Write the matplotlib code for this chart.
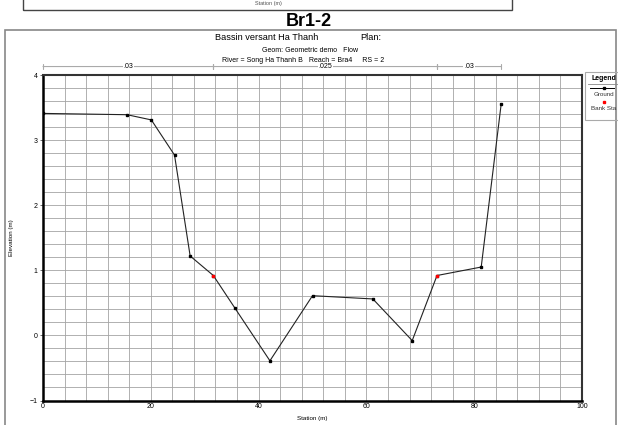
import matplotlib
matplotlib.use('Agg')
import matplotlib.pyplot as plt
from matplotlib.ticker import MultipleLocator
from matplotlib.patches import Rectangle
from matplotlib.lines import Line2D

# Cross-section data
station = [0, 15.6, 20.1, 24.4, 27.3, 31.6, 35.6, 42.1, 50.0, 61.2, 68.5, 73.1, 81.3, 85.0]
elevation = [3.41, 3.39, 3.31, 2.77, 1.22, 0.92, 0.42, -0.39, 0.61, 0.56, -0.08, 0.92, 1.05, 3.55]
bank_sta = [31.6, 73.1]
bank_elev = [0.92, 0.92]
n_breaks = [0, 31.6, 73.1, 85.0]
n_values = ['.03', '.025', '.03']

W, H = 618, 425
fig = plt.figure(figsize=(W / 100, H / 100), dpi=100)
fig.patch.set_facecolor('white')
plt.rcParams['font.family'] = ['Liberation Sans', 'DejaVu Sans']

def px(x, y):
    return x / W, 1 - y / H

# top strip (bottom of previous chart)
fig.patches.append(Rectangle(px(23, 10), (512 - 23) / W, 12 / H, transform=fig.transFigure,
                             fill=False, edgecolor='#444444', lw=1.0))
fig.text(*px(268, 3), 'Station (m)', fontsize=4, ha='center', va='center', color='#555555')

# page heading
fig.text(*px(309, 22), 'Br1-2', fontsize=13, fontweight='bold', ha='center', va='center',
         family=['Liberation Sans Narrow', 'Liberation Sans', 'DejaVu Sans'])

# outer frame of the chart window
fig.patches.append(Rectangle(px(5, 428), (616 - 5) / W, (428 - 30) / H, transform=fig.transFigure,
                             fill=False, edgecolor='#888888', lw=1.2))

fig.text(*px(267, 38), 'Bassin versant Ha Thanh', fontsize=6.6, ha='center', va='center')
fig.text(*px(371, 38), 'Plan:', fontsize=6.6, ha='center', va='center')
fig.text(*px(310, 50), 'Geom: Geometric demo   Flow', fontsize=5, ha='center', va='center')
fig.text(*px(303, 60), 'River = Song Ha Thanh B   Reach = Bra4     RS = 2', fontsize=5,
         ha='center', va='center')

left, right, top, bottom = 43, 582, 75, 400.5
ax = fig.add_axes([left / W, 1 - bottom / H, (right - left) / W, (bottom - top) / H])
ax.set_xlim(0, 100)
ax.set_ylim(-1, 4)
ax.xaxis.set_major_locator(MultipleLocator(20))
ax.xaxis.set_minor_locator(MultipleLocator(4))
ax.yaxis.set_major_locator(MultipleLocator(1))
ax.yaxis.set_minor_locator(MultipleLocator(0.2))
ax.grid(which='both', color='#a4a4a4', lw=0.6)
ax.set_axisbelow(True)
ax.tick_params(which='both', length=0, labelsize=5, pad=2)
ax.tick_params(axis='y', which='major', length=2, width=0.6, color='#555555')
for s in ['left', 'bottom']:
    ax.spines[s].set_linewidth(1.8)
    ax.spines[s].set_color('black')
for s in ['top', 'right']:
    ax.spines[s].set_linewidth(1.5)
    ax.spines[s].set_color('#333333')

ax.plot(station, elevation, '-', color='#222222', lw=0.8, marker='s', markersize=2,
        markerfacecolor='black', markeredgecolor='black', zorder=3)
ax.plot(bank_sta, bank_elev, 's', color='red', markersize=2, zorder=4)

ax.set_xlabel('Station (m)', fontsize=4.5, labelpad=4)
ax.set_ylabel('Elevation (m)', fontsize=4.5, labelpad=11)

# Manning's n bar above the plot
ny = 4.13
for i, lab in enumerate(n_values):
    a, b = n_breaks[i], n_breaks[i + 1]
    mid = (a + b) / 2
    ax.annotate('', xy=(a, ny), xytext=(b, ny), xycoords='data', annotation_clip=False,
                arrowprops=dict(arrowstyle='|-|', color='#aaaaaa', lw=0.8,
                                mutation_scale=2, shrinkA=0, shrinkB=0))
    ax.text(mid, ny, lab, fontsize=5, ha='center', va='center', clip_on=False,
            bbox=dict(facecolor='white', edgecolor='none', pad=0.5))

# legend box
lx0, lx1, ly0, ly1 = 585, 618, 72, 120
fig.patches.append(Rectangle(px(lx0, ly1), (lx1 - lx0) / W, (ly1 - ly0) / H,
                             transform=fig.transFigure, fill=False, edgecolor='#aaaaaa', lw=0.8))
fig.text(*px(604, 78), 'Legend', fontsize=5, ha='center', va='center', fontweight='bold')
fig.lines.append(Line2D([px(588, 0)[0], px(618, 0)[0]], [px(0, 84)[1]] * 2,
                        transform=fig.transFigure, color='#888888', lw=0.6))
fig.lines.append(Line2D([px(590, 0)[0], px(614, 0)[0]], [px(0, 88)[1]] * 2,
                        transform=fig.transFigure, color='black', lw=0.7))
fig.lines.append(Line2D([px(604, 0)[0]], [px(0, 88)[1]], transform=fig.transFigure,
                        marker='s', markersize=2, color='black'))
fig.text(*px(604, 95), 'Ground', fontsize=4.5, ha='center', va='center', color='#333333')
fig.lines.append(Line2D([px(604, 0)[0]], [px(0, 102)[1]], transform=fig.transFigure,
                        marker='s', markersize=2, color='red', lw=0))
fig.text(*px(604, 109), 'Bank Sta', fontsize=4.5, ha='center', va='center', color='#333333')

fig.savefig('out.png', dpi=100)
